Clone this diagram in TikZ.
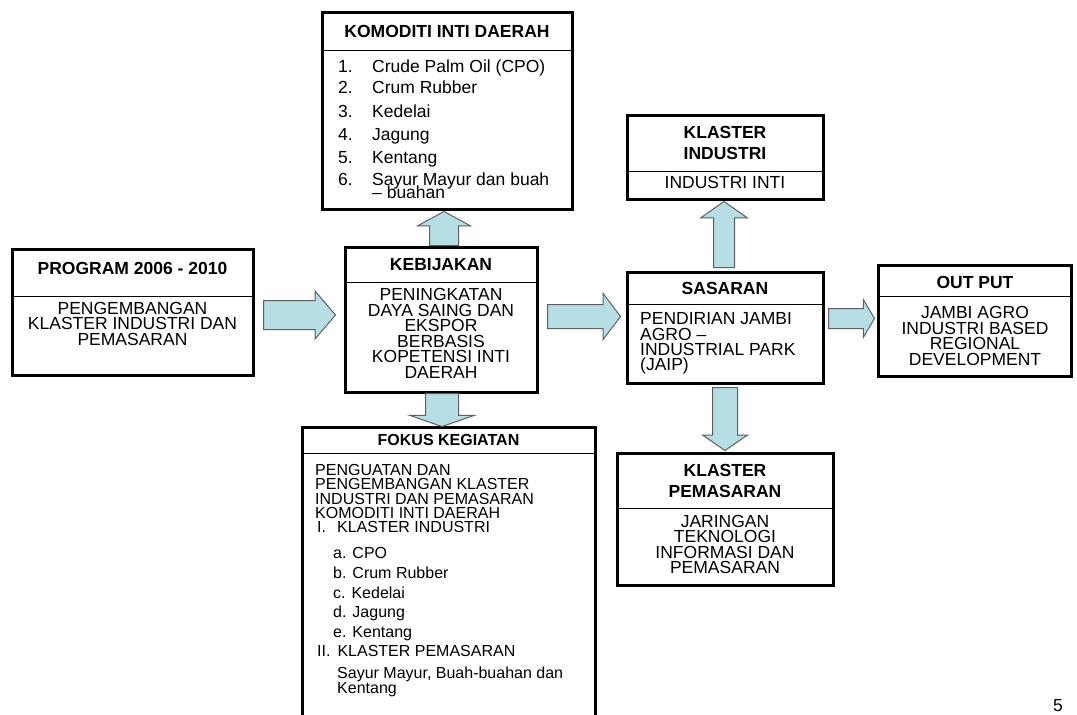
\documentclass[tikz,border=0pt]{standalone}
\usepackage{fontspec}
\setmainfont{Liberation Sans}
\usetikzlibrary{shapes,positioning}
\definecolor{arrowfill}{RGB}{183,222,229}
\definecolor{arrowline}{RGB}{95,95,95}

\begin{document}
\begin{tikzpicture}[
    x=1pt, y=-1pt,
    box/.style={rectangle, draw, line width=3pt, inner sep=0pt, outer sep=0pt},
    divider/.style={line width=1pt},
    head/.style={inner sep=0pt, align=center, font=\bfseries\fontsize{17.5}{21}\selectfont},
    body/.style={inner sep=0pt, align=center, font=\fontsize{17.5}{15.5}\selectfont},
    item/.style={inner sep=0pt, anchor=base west, font=\fontsize{17.5}{13}\selectfont},
    fokus/.style={inner sep=0pt, align=left, anchor=north west, font=\fontsize{16}{#1}\selectfont},
    barrow/.style={single arrow, draw=arrowline, line width=1pt, fill=arrowfill, minimum width=0pt, inner xsep=0pt, single arrow head indent=0pt, anchor=tail}
]
\useasboundingbox (0,0) rectangle (1077,715);
\clip (0,0) rectangle (1077,715);

% boxes
\node[box, minimum width=241pt, minimum height=126pt] (prog) at (132.5,312) {};
\node[box, minimum width=250pt, minimum height=197pt] (kom) at (447,110.5) {};
\node[box, minimum width=192pt, minimum height=145pt] (keb) at (441,319.5) {};
\node[box, minimum width=293pt, minimum height=303pt] (fokus) at (448.5,578.5) {};
\node[box, minimum width=196pt, minimum height=111pt] (sas) at (725,327.5) {};
\node[box, minimum width=196pt, minimum height=84pt, above=73pt of sas] (ki) {};
\node[box, minimum width=216pt, minimum height=132pt, below=70pt of sas] (kp) {};
\node[box, minimum width=193pt, minimum height=111pt] (out) at (974.5,320.5) {};

\draw[divider] (prog.west |- 0,296) -- (prog.east |- 0,296);
\draw[divider] (kom.west |- 0,50) -- (kom.east |- 0,50);
\draw[divider] (keb.west |- 0,282) -- (keb.east |- 0,282);
\draw[divider] (fokus.west |- 0,453) -- (fokus.east |- 0,453);
\draw[divider] (ki.west |- 0,171) -- (ki.east |- 0,171);
\draw[divider] (sas.west |- 0,304) -- (sas.east |- 0,304);
\draw[divider] (kp.west |- 0,508) -- (kp.east |- 0,508);
\draw[divider] (out.west |- 0,296) -- (out.east |- 0,296);

% program
\node[head] (progh) at (132.5,268) {PROGRAM 2006 - 2010};
\node[body] (progb) at (132.5,323.5) {PENGEMBANGAN\\KLASTER INDUSTRI DAN\\PEMASARAN};

% komoditi
\node[head] (komh) at (447,31) {KOMODITI INTI DAERAH};
\node[item] (n1) at (338,72.25) {1.};
\node[item] (k1) at (372,72.25) {Crude Palm Oil (CPO)};
\node[item] (n2) at (338,93.75) {2.};
\node[item] (k2) at (372,93.75) {Crum Rubber};
\node[item] (n3) at (338,117.25) {3.};
\node[item] (k3) at (372,117.25) {Kedelai};
\node[item] (n4) at (338,140.25) {4.};
\node[item] (k4) at (372,140.25) {Jagung};
\node[item] (n5) at (338,163.25) {5.};
\node[item] (k5) at (372,163.25) {Kentang};
\node[item] (n6) at (338,185.25) {6.};
\node[item] (k6) at (372,185.25) {Sayur Mayur dan buah};
\node[item] (k6b) at (372,198) {-- buahan};

% kebijakan
\node[head] (kebh) at (441,264.5) {KEBIJAKAN};
\node[body] (kebb) at (441,333.5) {PENINGKATAN\\DAYA SAING DAN\\EKSPOR\\BERBASIS\\KOPETENSI INTI\\DAERAH};

% fokus kegiatan
\node[head, font=\bfseries\fontsize{16}{19}\selectfont] (fokh) at (448.5,440) {FOKUS KEGIATAN};
\node[fokus=14.25] (fok1) at (315,464.25) {PENGUATAN DAN\\PENGEMBANGAN KLASTER\\INDUSTRI DAN PEMASARAN\\KOMODITI INTI DAERAH\\\hspace*{2pt}I.\hspace{11pt}KLASTER INDUSTRI};
\node[fokus=19.75] (fok2) at (333,547.25) {a. CPO\\b. Crum Rubber\\c. Kedelai\\d. Jagung\\e. Kentang};
\node[fokus=14.25, anchor=base west] (fok3) at (317,656.75) {II.\hspace{7pt}KLASTER PEMASARAN};
\node[fokus=13] (fok4) at (337,666.25) {Sayur Mayur, Buah-buahan dan\\Kentang};

% sasaran and klaster
\node[head] (kih) at (725,142.5) {KLASTER\\INDUSTRI};
\node[body] (kib) at (725,182) {INDUSTRI INTI};
\node[head] (sash) at (725,288) {SASARAN};
\node[body, align=left, anchor=north west, font=\fontsize{17.5}{15.3}\selectfont] (sasb) at (640,312.75) {PENDIRIAN JAMBI\\AGRO --\\INDUSTRIAL PARK\\(JAIP)};
\node[head] (kph) at (725,481) {KLASTER\\PEMASARAN};
\node[body] (kpb) at (725,544.5) {JARINGAN\\TEKNOLOGI\\INFORMASI DAN\\PEMASARAN};

% output
\node[head] (outh) at (975,282) {OUT PUT};
\node[body] (outb) at (975,336) {JAMBI AGRO\\INDUSTRI BASED\\REGIONAL\\DEVELOPMENT};

% block arrows
\node[barrow, minimum height=72pt, inner ysep=14pt, single arrow head extend=9.5pt, single arrow tip angle=99] (prog2keb) at (263,315) {};
\node[barrow, minimum height=73pt, inner ysep=11.5pt, single arrow head extend=11pt, single arrow tip angle=106] (keb2sas) at (547,316.5) {};
\node[barrow, minimum height=46pt, inner ysep=9.5pt, single arrow head extend=9pt, single arrow tip angle=119] (sas2out) at (828,318.5) {};
\node[barrow, rotate=90, minimum height=34pt, inner ysep=14pt, single arrow head extend=12pt, single arrow tip angle=123] (keb2kom) at (444,246) {};
\node[barrow, rotate=-90, minimum height=33pt, inner ysep=16pt, single arrow head extend=16pt, single arrow tip angle=142] (keb2fok) at (442,393) {};
\node[barrow, rotate=90, minimum height=66pt, inner ysep=10pt, single arrow head extend=13pt, single arrow tip angle=110] (sas2ki) at (724,268) {};
\node[barrow, rotate=-90, minimum height=63pt, inner ysep=12pt, single arrow head extend=10pt, single arrow tip angle=111] (sas2kp) at (725,387) {};

\node[font=\fontsize{17.5}{17.5}\selectfont, inner sep=0pt] (pg) at (1058,706) {5};
\end{tikzpicture}
\end{document}
